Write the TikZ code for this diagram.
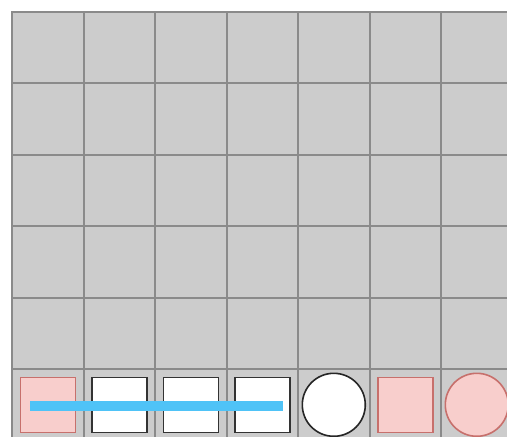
\documentclass[tikz,border=0pt]{standalone}
\begin{document}
\begin{tikzpicture}[x=1pt,y=-1pt,
  cellbox/.style={fill=cellgray,draw=gridgray,line width=2pt},
  whitesq/.style={draw=black!80,fill=white,line width=1.6pt,minimum size=55pt,inner sep=0pt},
  pinksq/.style={draw=pinkedge,fill=pinkfill,line width=1.6pt,minimum size=55pt,inner sep=0pt},
  whitecirc/.style={circle,draw=black!85,fill=white,line width=1.6pt,minimum size=63pt,inner sep=0pt},
  pinkcirc/.style={circle,draw=pinkedge,fill=pinkfill,line width=1.6pt,minimum size=63pt,inner sep=0pt},
  blueline/.style={draw=lineblue,line width=9.5pt}]
\definecolor{cellgray}{HTML}{CCCCCC}
\definecolor{gridgray}{HTML}{8A8A8A}
\definecolor{pinkfill}{HTML}{F8CECC}
\definecolor{pinkedge}{HTML}{C7706C}
\definecolor{lineblue}{HTML}{4FC3F7}
\useasboundingbox (0,0) rectangle (507,437);
\clip (0,0) rectangle (507,437);
\fill[white] (0,0) rectangle (507,437);
\foreach \i in {0,...,6}{
  \foreach \j in {0,...,5}{
    \draw[cellbox] ({12+\i*71.5},{12+\j*71.4}) rectangle ++(71.5,71.4);
  }
}
\node[pinksq] (s0) at (47.8,404.8) {};
\node[whitesq] (s1) at (119.3,404.8) {};
\node[whitesq] (s2) at (190.8,404.8) {};
\node[whitesq] (s3) at (262.3,404.8) {};
\node[whitecirc] (c4) at (333.8,404.8) {};
\node[pinksq] (s5) at (405.3,404.8) {};
\node[pinkcirc] (c6) at (476.8,404.8) {};
\coordinate (ls) at (30,405.8);
\coordinate (le) at (282.7,405.8);
\draw[blueline] (ls) -- (le);
\end{tikzpicture}
\end{document}
